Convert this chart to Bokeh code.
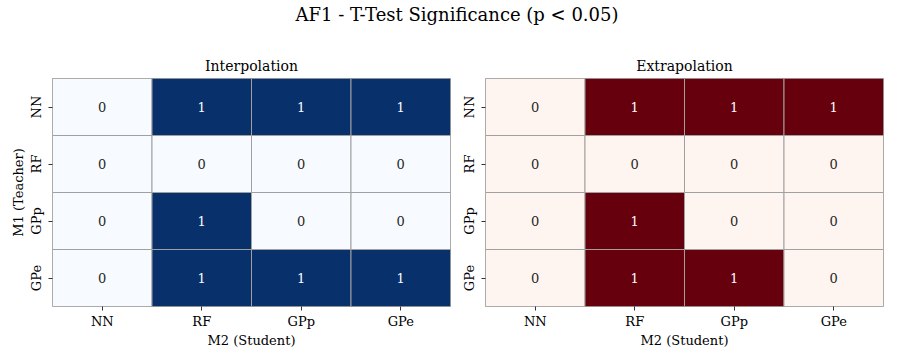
from bokeh.plotting import figure
from bokeh.models import ColumnDataSource, Div, FactorRange
from bokeh.layouts import column, row
from bokeh.embed import file_html
from bokeh.resources import INLINE
from bokeh.core.properties import value

models = ["NN", "RF", "GPp", "GPe"]
interp = [[0, 1, 1, 1],
          [0, 0, 0, 0],
          [0, 1, 0, 0],
          [0, 1, 1, 1]]
extrap = [[0, 1, 1, 1],
          [0, 0, 0, 0],
          [0, 1, 0, 0],
          [0, 1, 1, 0]]

FONT = "DejaVu Serif"


def heat(mat, title, low, high, w, bl, br, ylabel):
    xs, ys, cols, tcols, txt = [], [], [], [], []
    for i, m1 in enumerate(models):
        for j, m2 in enumerate(models):
            v = mat[i][j]
            xs.append(m2)
            ys.append(m1)
            cols.append(high if v else low)
            tcols.append("#f7fbff" if v else "#262626")
            txt.append(str(v))
    src = ColumnDataSource(dict(x=xs, y=ys, c=cols, tc=tcols, t=txt))
    p = figure(width=w, height=303, x_range=FactorRange(*models),
               y_range=FactorRange(*list(reversed(models))),
               output_backend="svg", toolbar_location=None,
               min_border_left=bl, min_border_right=br,
               min_border_top=30, min_border_bottom=45, title=title)
    p.rect("x", "y", 1, 1, source=src, fill_color="c", line_color="#a0a0a0",
           line_width=1)
    p.text("x", "y", text="t", source=src, text_color="tc",
           text_align="center", text_baseline="middle",
           text_font=value(FONT), text_font_size="13px")
    p.title.align = "center"
    p.title.text_font = FONT
    p.title.text_font_size = "14px"
    p.title.text_font_style = "normal"
    p.title.text_color = "#000000"
    p.outline_line_color = "#a0a0a0"
    p.grid.visible = False
    for ax in (p.xaxis, p.yaxis):
        ax.axis_line_color = None
        ax.major_tick_in = 0
        ax.major_tick_out = 4
        ax.major_tick_line_color = "#333333"
        ax.minor_tick_line_color = None
        ax.major_label_text_font = FONT
        ax.major_label_text_font_size = "13px"
        ax.major_label_text_color = "#000000"
        ax.axis_label_text_font = FONT
        ax.axis_label_text_font_size = "13px"
        ax.axis_label_text_font_style = "normal"
        ax.axis_label_text_color = "#000000"
        ax.major_label_standoff = 3
        ax.axis_label_standoff = 1
    p.yaxis.major_label_standoff = 5
    p.yaxis.axis_label_standoff = 0
    p.xaxis.axis_label = "M2 (Student)"
    if ylabel:
        p.yaxis.axis_label = "M1 (Teacher)"
    p.yaxis.major_label_orientation = "vertical"
    return p


p1 = heat(interp, "Interpolation", "#f7fbff", "#08306b", 458, 52, 8, True)
p2 = heat(extrap, "Extrapolation", "#fff5f0", "#67000d", 431, 27, 6, False)

title = Div(text="AF1 - T-Test Significance (p &lt; 0.05)", width=889, height=38,
            styles={"font-family": FONT, "font-size": "18px", "color": "#000",
                    "text-align": "center", "width": "889px",
                    "padding-left": "15px", "box-sizing": "border-box",
                    "padding-top": "0px", "line-height": "20px"})

layout = column(title, row(p1, p2, spacing=0), spacing=0)
open("out.html", "w").write(file_html(layout, INLINE))
